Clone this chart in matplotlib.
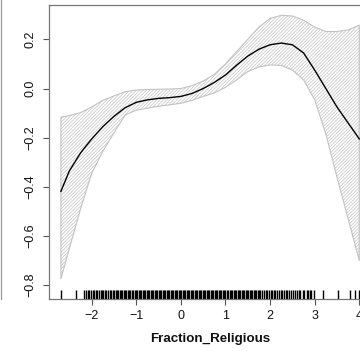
import numpy as np
import matplotlib
matplotlib.use("Agg")
import matplotlib.pyplot as plt
from matplotlib.lines import Line2D

plt.rcParams["font.family"] = ["Liberation Sans", "DejaVu Sans"]
plt.rcParams["hatch.linewidth"] = 0.5

# smooth term: estimate and confidence band
x_grid = [-2.69, -2.5, -2.25, -2.0, -1.75, -1.5, -1.25, -1.0, -0.75, -0.5, -0.25,
          0.0, 0.25, 0.5, 0.75, 1.0, 1.25, 1.5, 1.75, 2.0, 2.25, 2.5, 2.75,
          3.0, 3.25, 3.5, 3.75, 4.0]
fit = [-0.418, -0.335, -0.262, -0.205, -0.155, -0.113, -0.078, -0.056, -0.046,
       -0.040, -0.037, -0.032, -0.020, 0.000, 0.025, 0.055, 0.095, 0.132, 0.160,
       0.178, 0.185, 0.178, 0.145, 0.075, 0.000, -0.075, -0.140, -0.205]
upper = [-0.116, -0.110, -0.098, -0.075, -0.048, -0.030, -0.013, -0.006, -0.004,
         -0.003, -0.002, 0.000, 0.012, 0.030, 0.058, 0.100, 0.150, 0.200, 0.250,
         0.285, 0.298, 0.295, 0.278, 0.250, 0.232, 0.232, 0.238, 0.258]
lower = [-0.774, -0.650, -0.490, -0.345, -0.255, -0.180, -0.108, -0.088, -0.080,
         -0.072, -0.066, -0.060, -0.048, -0.032, -0.018, 0.005, 0.035, 0.069, 0.088,
         0.096, 0.094, 0.075, 0.035, -0.045, -0.185, -0.360, -0.530, -0.700]

# rug of observed Fraction_Religious values
rug = [-2.69, -2.35, -2.18, -2.13, -2.08, -2.05, -2.02, -1.98, -1.95, -1.91, -1.88,
       -1.84, -1.80, -1.77, -1.74, -1.70, -1.67, -1.63, -1.60, -1.57, -1.53, -1.50,
       -1.46, -1.43, -1.40, -1.37, -1.34, -1.31, -1.28, -1.25, -1.22, -1.19, -1.16,
       -1.13, -1.10, -1.07, -1.04, -1.01, -0.98, -0.95, -0.92, -0.89, -0.86, -0.83,
       -0.80, -0.77, -0.74, -0.71, -0.68, -0.65, -0.62, -0.59, -0.56, -0.53, -0.50,
       -0.47, -0.44, -0.41, -0.38, -0.35, -0.32, -0.29, -0.26, -0.23, -0.20, -0.17,
       -0.14, -0.11, -0.08, -0.05, -0.02, 0.01, 0.04, 0.07, 0.10, 0.13, 0.16, 0.19,
       0.22, 0.25, 0.28, 0.31, 0.34, 0.37, 0.40, 0.43, 0.46, 0.49, 0.52, 0.55, 0.58,
       0.61, 0.64, 0.67, 0.70, 0.73, 0.76, 0.79, 0.82, 0.85, 0.88, 0.91, 0.94, 0.97,
       1.00, 1.03, 1.06, 1.09, 1.12, 1.15, 1.18, 1.21, 1.24, 1.27, 1.30, 1.33, 1.36,
       1.39, 1.42, 1.45, 1.48, 1.51, 1.54, 1.57, 1.60, 1.63, 1.66, 1.69, 1.72, 1.75,
       1.78, 1.82, 1.86, 1.90, 1.93, 1.97, 2.01, 2.05, 2.09, 2.12, 2.16, 2.20, 2.24,
       2.27, 2.31, 2.35, 2.39, 2.43, 2.47, 2.52, 2.56, 2.60, 2.64, 2.68, 2.73, 2.77,
       2.82, 2.86, 2.90, 2.92, 2.98, 3.19, 3.53, 3.79, 3.90, 4.00]

x_ticks = [-2, -1, 0, 1, 2, 3, 4]
y_ticks = [-0.8, -0.6, -0.4, -0.2, 0.0, 0.2]
y_ticklabels = ["\u22120.8", "\u22120.6", "\u22120.4", "\u22120.2", "0.0", "0.2"]
x_ticklabels = ["\u22122", "\u22121", "0", "1", "2", "3", "4"]

fig = plt.figure(figsize=(3.6, 3.51), dpi=100)
ax = fig.add_axes([49 / 360, 52 / 351, 323 / 360, 294.3 / 351])

ax.fill_between(x_grid, lower, upper, facecolor="white", edgecolor="#c2c2c2",
                hatch="/" * 10, linewidth=0.8, zorder=1)
ax.plot(x_grid, fit, color="black", linewidth=1.0, zorder=3)
ax.vlines(rug, 0, 0.03, transform=ax.get_xaxis_transform(), color="black",
          linewidth=1.0, zorder=2)

ax.set_xlim(-2.957, 4.285)
ax.set_ylim(-0.856, 0.341)
ax.set_xticks(x_ticks)
ax.set_xticklabels(x_ticklabels)
ax.set_yticks(y_ticks)
ax.set_yticklabels(y_ticklabels, rotation=90, va="center")
ax.tick_params(axis="both", labelsize=9, colors="#555555", labelcolor="#111111",
               length=4, width=0.8)
ax.tick_params(axis="x", pad=4)
ax.tick_params(axis="y", pad=5)
for s in ax.spines.values():
    s.set_color("#777777")
    s.set_linewidth(0.9)

ax.set_xlabel("Fraction_Religious", fontsize=9.6, fontweight="bold", labelpad=8,
              color="#111111")

# edge of neighbouring panel
fig.add_artist(Line2D([0.5 / 360, 0.5 / 360], [52 / 351, 1.0], transform=fig.transFigure,
                      color="#999999", linewidth=0.9))

fig.savefig("out.png", dpi=100)
